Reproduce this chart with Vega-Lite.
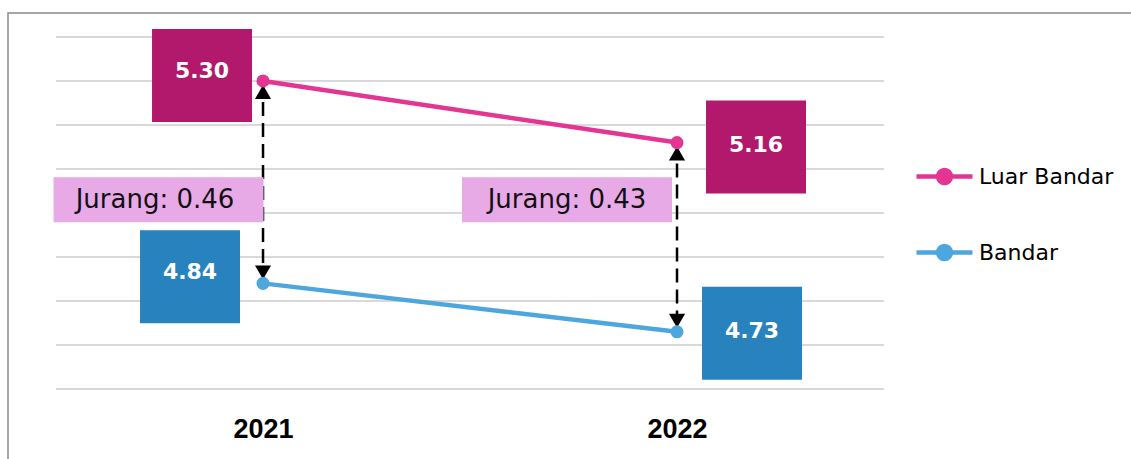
{
  "$schema": "https://vega.github.io/schema/vega-lite/v6.json",
  "width": 1124,
  "height": 449,
  "autosize": {"type": "none"},
  "padding": {"left": 8, "top": 13, "right": 0, "bottom": 0},
  "background": "white",
  "config": {
    "view": {"stroke": "#8a8a8a", "strokeWidth": 1.5},
    "axisX": {"domain": false, "ticks": false, "grid": false, "labelFontSize": 27, "labelFontWeight": "bold", "labelFont": "Liberation Sans", "labelColor": "#000000", "offset": -46, "labelPadding": 0}
  },
  "datasets": {
    "series": [
      {"year": 2021, "area": "Luar Bandar", "value": 5.30},
      {"year": 2022, "area": "Luar Bandar", "value": 5.16},
      {"year": 2021, "area": "Bandar", "value": 4.84},
      {"year": 2022, "area": "Bandar", "value": 4.73}
    ],
    "gap": [
      {"year": 2021, "top": 5.30, "bottom": 4.84, "label": "Jurang: 0.46"},
      {"year": 2022, "top": 5.16, "bottom": 4.73, "label": "Jurang: 0.43"}
    ],
    "grid": [
      {"v": 4.6}, {"v": 4.7}, {"v": 4.8}, {"v": 4.9}, {"v": 5.0}, {"v": 5.1}, {"v": 5.2}, {"v": 5.3}, {"v": 5.4}
    ]
  },
  "layer": [
    {
      "data": {"name": "grid"},
      "mark": {"type": "rule", "color": "#d9d9d9", "strokeWidth": 2},
      "encoding": {
        "x": {"datum": 2020.5, "type": "quantitative", "scale": {"domain": [2020.384, 2023.099], "nice": false, "zero": false}},
        "x2": {"datum": 2022.5},
        "y": {"field": "v", "type": "quantitative", "scale": {"domain": [4.434, 5.4545], "nice": false, "zero": false}, "axis": null}
      }
    },
    {
      "data": {"name": "series"},
      "mark": {"type": "line", "strokeWidth": 4.5},
      "encoding": {
        "x": {"field": "year", "type": "quantitative", "scale": {"domain": [2020.384, 2023.099], "nice": false, "zero": false}, "axis": {"values": [2021, 2022], "format": "d", "title": null}},
        "y": {"field": "value", "type": "quantitative", "scale": {"domain": [4.434, 5.4545], "nice": false, "zero": false}, "axis": null},
        "color": {"field": "area", "type": "nominal", "scale": {"domain": ["Luar Bandar", "Bandar"], "range": ["#E33592", "#4EA6DE"]},
          "legend": {"orient": "none", "legendX": 906, "legendY": 133, "title": null, "labelFontSize": 22, "labelFont": "DejaVu Sans", "labelColor": "#000000", "symbolType": "M-1,0H1M0.23,0A0.23,0.23 0 1,1 -0.23,0A0.23,0.23 0 1,1 0.23,0Z", "symbolSize": 3136, "symbolStrokeWidth": 4.5, "rowPadding": 30, "labelOffset": 4}}
      }
    },
    {
      "data": {"name": "gap"},
      "mark": {"type": "rule", "color": "#000000", "strokeWidth": 2.5, "strokeDash": [14, 7]},
      "encoding": {
        "x": {"field": "year", "type": "quantitative"},
        "y": {"field": "top", "type": "quantitative", "scale": {"domain": [4.434, 5.4545], "nice": false, "zero": false}, "axis": null},
        "y2": {"field": "bottom"}
      }
    },
    {
      "data": {"name": "gap"},
      "mark": {"type": "point", "shape": "triangle-up", "filled": true, "opacity": 1, "color": "#000000", "size": 260, "yOffset": 11},
      "encoding": {
        "x": {"field": "year", "type": "quantitative"},
        "y": {"field": "top", "type": "quantitative", "scale": {"domain": [4.434, 5.4545], "nice": false, "zero": false}, "axis": null}
      }
    },
    {
      "data": {"name": "gap"},
      "mark": {"type": "point", "shape": "triangle-down", "filled": true, "opacity": 1, "color": "#000000", "size": 260, "yOffset": -11},
      "encoding": {
        "x": {"field": "year", "type": "quantitative"},
        "y": {"field": "bottom", "type": "quantitative", "scale": {"domain": [4.434, 5.4545], "nice": false, "zero": false}, "axis": null}
      }
    },
    {
      "data": {"name": "series"},
      "mark": {"type": "point", "shape": "circle", "filled": true, "opacity": 1, "size": 170},
      "encoding": {
        "x": {"field": "year", "type": "quantitative"},
        "y": {"field": "value", "type": "quantitative", "scale": {"domain": [4.434, 5.4545], "nice": false, "zero": false}, "axis": null},
        "color": {"field": "area", "type": "nominal"}
      }
    },
    {
      "data": {"name": "series"},
      "encoding": {
        "x": {"field": "year", "type": "quantitative"},
        "y": {"field": "value", "type": "quantitative", "scale": {"domain": [4.434, 5.4545], "nice": false, "zero": false}, "axis": null}
      },
      "layer": [
        {
          "mark": {"type": "point", "shape": "M-1,-0.93H1V0.93H-1Z", "filled": true, "opacity": 1, "size": 10000, "strokeWidth": 0,
            "fill": {"expr": "datum.area == 'Bandar' ? '#2782BE' : '#B2186C'"},
            "xOffset": {"expr": "datum.area == 'Luar Bandar' ? (datum.year == 2021 ? -61 : 79) : (datum.year == 2021 ? -73 : 75)"},
            "yOffset": {"expr": "datum.area == 'Luar Bandar' ? (datum.year == 2021 ? -5.5 : 4.5) : (datum.year == 2021 ? -6.5 : 1.5)"}}
        },
        {
          "mark": {"type": "text", "color": "#ffffff", "font": "DejaVu Sans", "fontWeight": "bold", "fontSize": 22, "align": "center", "baseline": "middle",
            "xOffset": {"expr": "datum.area == 'Luar Bandar' ? (datum.year == 2021 ? -61 : 79) : (datum.year == 2021 ? -73 : 75)"},
            "yOffset": {"expr": "datum.area == 'Luar Bandar' ? (datum.year == 2021 ? -10 : 2) : (datum.year == 2021 ? -11 : -1)"}},
          "encoding": {"text": {"field": "value", "type": "quantitative", "format": ".2f"}}
        }
      ]
    },
    {
      "data": {"name": "gap"},
      "encoding": {
        "x": {"field": "year", "type": "quantitative"},
        "y": {"datum": 5.03, "type": "quantitative", "scale": {"domain": [4.434, 5.4545], "nice": false, "zero": false}, "axis": null}
      },
      "layer": [
        {
          "mark": {"type": "point", "shape": "M-1,-0.2143H1V0.2143H-1Z", "filled": true, "opacity": 1, "size": 44100, "strokeWidth": 0, "fill": "#E8A9E7",
            "xOffset": {"expr": "datum.year == 2021 ? -104.5 : -110"}}
        },
        {
          "mark": {"type": "text", "color": "#111111", "font": "DejaVu Sans", "fontSize": 26, "align": "center", "baseline": "middle",
            "xOffset": {"expr": "datum.year == 2021 ? -108 : -110"}},
          "encoding": {"text": {"field": "label", "type": "nominal"}}
        }
      ]
    }
  ]
}
